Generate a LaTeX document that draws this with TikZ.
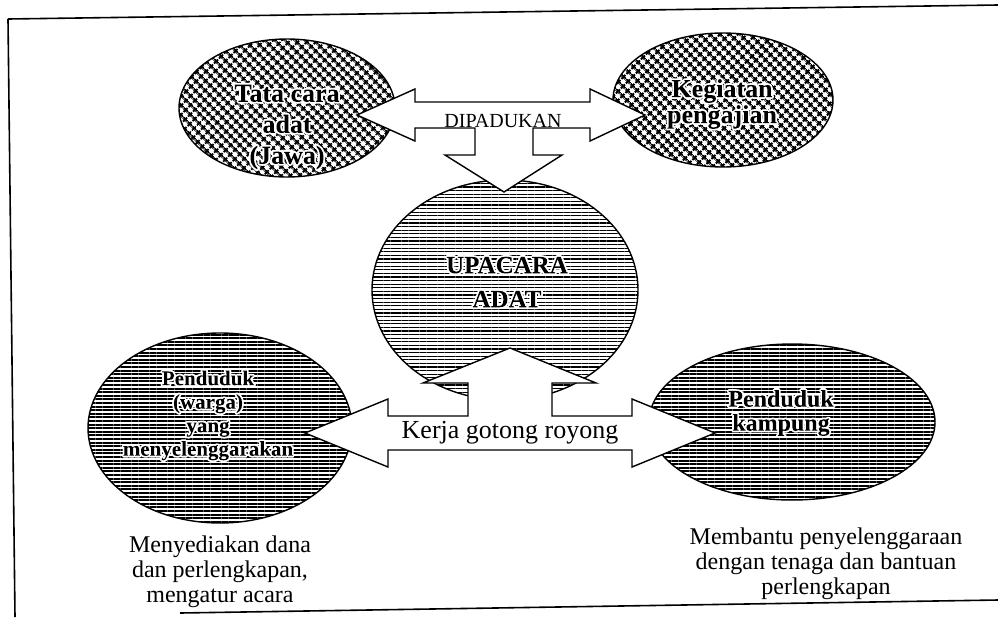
\documentclass[tikz,border=0pt]{standalone}
\usepackage{fontspec}
\setmainfont{Liberation Serif}
\usetikzlibrary{shapes.geometric,patterns.meta}
% black text with a white halo: fill+stroke (white) and clip, then refill the glyphs black
\newcommand\hl[1]{\special{pdf:bcontent}\special{pdf:literal direct 6 Tr 1 1 1 RG 3.6 w 1 j}#1\special{pdf:content 0 g -3000 -3000 6000 6000 re f}\special{pdf:econtent}}
\begin{document}
\begin{tikzpicture}[x=1pt,y=-1pt,
  bub/.style={ellipse, draw=black, line width=1.4pt, inner sep=0pt},
  cross/.style={bub, pattern={Hatch[angle=45,distance=6.5pt,line width=2.3pt]}},
  hlines/.style={bub, pattern={Lines[angle=0,distance=3.6pt,line width=#1]}},
  lbl/.style={align=center, inner sep=0pt},
  blk/.style={draw=black, line width=1.4pt, fill=white, line join=miter},
  captxt/.style={align=center, inner sep=0pt, font=\fontsize{24}{25}\selectfont},
  framelin/.style={draw=black, line width=1.6pt}]
\useasboundingbox (0,0) rectangle (998,619);

% frame
\draw[framelin] (8,19) -- (998,5);
\draw[framelin] (8,19) -- (15,617);
\draw[framelin] (180,613) -- (998,600);

% ellipses
\node[cross, minimum width=216pt, minimum height=138pt] (tata) at (287,108) {};
\node[cross, minimum width=220pt, minimum height=134pt] (keg) at (723,100) {};
\node[hlines=1.3pt, minimum width=266pt, minimum height=220pt] (upa) at (505,290) {};
\node[hlines=2pt, minimum width=264pt, minimum height=190pt] (pwa) at (220,428) {};
\node[hlines=1.9pt, minimum width=286pt, minimum height=156pt] (pka) at (792,422) {};

% top block arrow (DIPADUKAN)
\draw[blk] (357,115) -- (415,89) -- (415,102) -- (590,102) -- (590,89) -- (645,115)
  -- (590,141) -- (590,128) -- (533,128) -- (533,155) -- (562,155) -- (504,192)
  -- (445,155) -- (475,155) -- (475,128) -- (415,128) -- (415,141) -- cycle;
\node[lbl, font=\fontsize{20}{22}\selectfont] (dip) at (503,120.5) {DIPADUKAN};

% bottom block arrow (Kerja gotong royong)
\draw[blk] (305,433) -- (388,399) -- (388,416) -- (468,416) -- (468,383) -- (423,383)
  -- (510,348) -- (596,383) -- (552,383) -- (552,416) -- (632,416) -- (632,399)
  -- (715,433) -- (632,467) -- (632,450) -- (388,450) -- (388,467) -- cycle;
\node[lbl, font=\fontsize{26}{28}\selectfont] (kgr) at (510,433) {Kerja gotong royong};

% ellipse labels
\node[lbl, font=\bfseries\fontsize{26}{31}\selectfont] (tatal) at (287,127)
  {\hl{Tata cara}\\\hl{adat}\\\hl{(Jawa)}};
\node[lbl, font=\bfseries\fontsize{26}{26}\selectfont] (kegl) at (722,104)
  {\hl{Kegiatan}\\\hl{pengajian}};
\node[lbl, font=\bfseries\fontsize{25}{34}\selectfont] (upal) at (507,282)
  {\hl{UPACARA}\\\hl{ADAT}};
\node[lbl, font=\bfseries\fontsize{21}{23.5}\selectfont] (pwal) at (208,415.5)
  {\hl{Penduduk}\\\hl{(warga)}\\\hl{yang}\\\hl{menyelenggarakan}};
\node[lbl, font=\bfseries\fontsize{24}{24}\selectfont] (pkal) at (781,413)
  {\hl{Penduduk}\\\hl{kampung}};

% captions
\node[captxt] (capl) at (220,572) {Menyediakan dana\\dan perlengkapan,\\mengatur acara};
\node[captxt] (capr) at (826,564) {Membantu penyelenggaraan\\dengan tenaga dan bantuan\\perlengkapan};
\end{tikzpicture}
\end{document}
